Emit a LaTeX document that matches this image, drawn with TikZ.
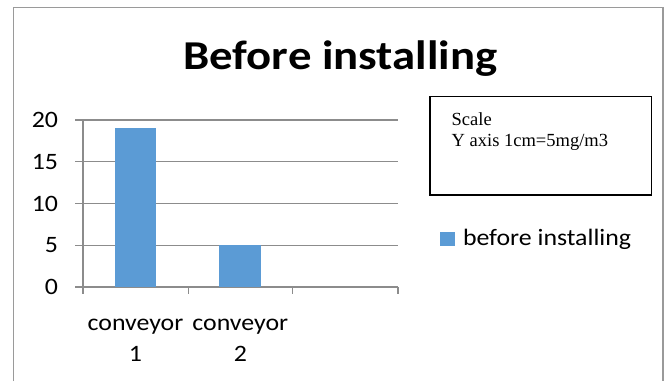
\documentclass[tikz,border=0pt]{standalone}
\usepackage{fontspec}
\setmainfont{Carlito}
\newfontfamily\calibriT{Carlito}[FakeStretch=1.14]
\newfontfamily\calibriL{Carlito}[FakeStretch=1.1]
\newfontfamily\timesF{Liberation Serif}
\definecolor{barblue}{HTML}{5B9BD5}
\definecolor{gridgray}{HTML}{8C8C8C}
\definecolor{framegray}{HTML}{9A9A9A}
\tikzset{
  txt/.style={inner sep=0pt, outer sep=0pt},
  ticklabel/.style={txt, anchor=east, font=\calibriL\fontsize{23.5}{28}\selectfont},
  catlabel/.style={txt, anchor=base, font=\calibriL\fontsize{23.5}{28}\selectfont},
  gridline/.style={draw=gridgray, line width=1.2pt},
  bar/.style={fill=barblue, draw=none},
  scalebox/.style={draw=black, line width=1.5pt},
  scaletext/.style={txt, anchor=base west, font=\timesF\fontsize{18.5}{21.7}\selectfont}
}
\begin{document}
\begin{tikzpicture}[x=1pt, y=-1pt]
  \useasboundingbox (0,0) rectangle (666,381);

  % chart frame (open at the bottom)
  \draw[framegray, line width=1.5pt] (13.5,381) -- (13.5,7.3) -- (663,7.3) -- (663,381);

  % title
  \node[txt, anchor=base, font=\calibriT\bfseries\fontsize{41}{49}\selectfont]
    (title) at (340.3,69.3) {Before installing};

  % horizontal gridlines with left ticks
  \foreach \v/\y in {0/287, 5/245.25, 10/203.5, 15/161.75, 20/120} {
    \coordinate (gl\v) at (75,\y);
    \coordinate (gr\v) at (398,\y);
    \draw[gridline] (gl\v) -- (gr\v);
    \node[ticklabel] (yl\v) at (58,\y) {\v};
  }

  % vertical axis
  \coordinate (axtop) at (83,120);
  \coordinate (axbot) at (83,294);
  \draw[gridline] (axtop) -- (axbot);

  % category ticks below the axis
  \foreach \i/\x in {1/188.3, 2/292.7, 3/398} {
    \coordinate (tt\i) at (\x,287);
    \coordinate (tb\i) at (\x,294);
    \draw[gridline] (tt\i) -- (tb\i);
  }

  % bars
  \path[bar] (115,287) rectangle (156,127.7);
  \path[bar] (219.3,287) rectangle (261,245.25);

  % category labels
  \node[catlabel] (c1a) at (135.5,330) {conveyor};
  \node[catlabel] (c1b) at (135.5,361.7) {1};
  \node[catlabel] (c2a) at (240.3,330) {conveyor};
  \node[catlabel] (c2b) at (240.3,361.7) {2};

  % scale note box
  \draw[scalebox] (430,96.7) rectangle (651.7,195);
  \node[scaletext] (sc1) at (451.7,125) {Scale};
  \node[scaletext] (sc2) at (451.7,146.7) {Y axis 1cm=5mg/m3};

  % legend
  \path[bar] (440,231.7) rectangle (455,245.7);
  \node[txt, anchor=base west, font=\calibriL\fontsize{23.5}{28}\selectfont]
    (leg) at (463,245) {before installing};
\end{tikzpicture}
\end{document}
